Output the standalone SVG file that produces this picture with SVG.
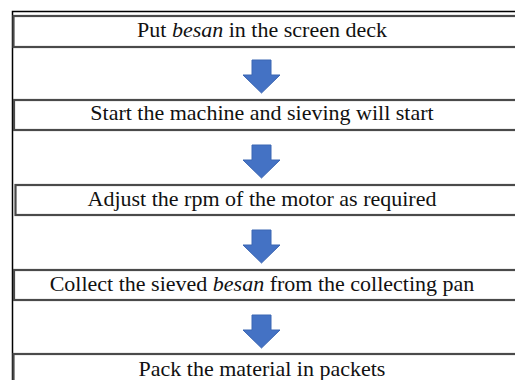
<svg xmlns="http://www.w3.org/2000/svg" width="515" height="380" viewBox="0 0 515 380">
<defs>
<style>
.frame{fill:none;stroke:#000;stroke-width:1.5}
.box{fill:#fff;stroke:#4a4a4a;stroke-width:2.2}
.t{font-family:"Liberation Serif","Times New Roman",serif;font-size:22px;fill:#111;text-anchor:middle}
.arrow{fill:#4472C4;stroke:#3b66b3;stroke-width:1}
</style>
<path id="dn" class="arrow" d="M-9.5,0 H9.5 V15 H18.5 L0,33 L-18.5,15 H-9.5 Z"/>
</defs>
<rect width="515" height="380" fill="#fff"/>
<g id="frame">
<path class="frame" d="M12.5,380 V11.5 H515"/>
</g>
<g id="node1">
<rect class="box" x="13.5" y="16" width="510" height="31"/>
<text class="t" x="262" y="37">Put <tspan font-style="italic">besan</tspan> in the screen deck</text>
</g>
<g id="node2">
<rect class="box" x="14" y="100" width="510" height="30"/>
<text class="t" x="262" y="120">Start the machine and sieving will start</text>
</g>
<g id="node3">
<rect class="box" x="15.5" y="185" width="510" height="30"/>
<text class="t" x="262" y="206">Adjust the rpm of the motor as required</text>
</g>
<g id="node4">
<rect class="box" x="14" y="270" width="510" height="30"/>
<text class="t" x="262" y="291">Collect the sieved <tspan font-style="italic">besan</tspan> from the collecting pan</text>
</g>
<g id="node5">
<rect class="box" x="13.5" y="354" width="510" height="40"/>
<text class="t" x="262" y="376">Pack the material in packets</text>
</g>
<g id="connectors">
<use href="#dn" x="261.5" y="60"/>
<use href="#dn" x="261.5" y="145"/>
<use href="#dn" x="261.5" y="230"/>
<use href="#dn" x="261.5" y="315"/>
</g>
</svg>
